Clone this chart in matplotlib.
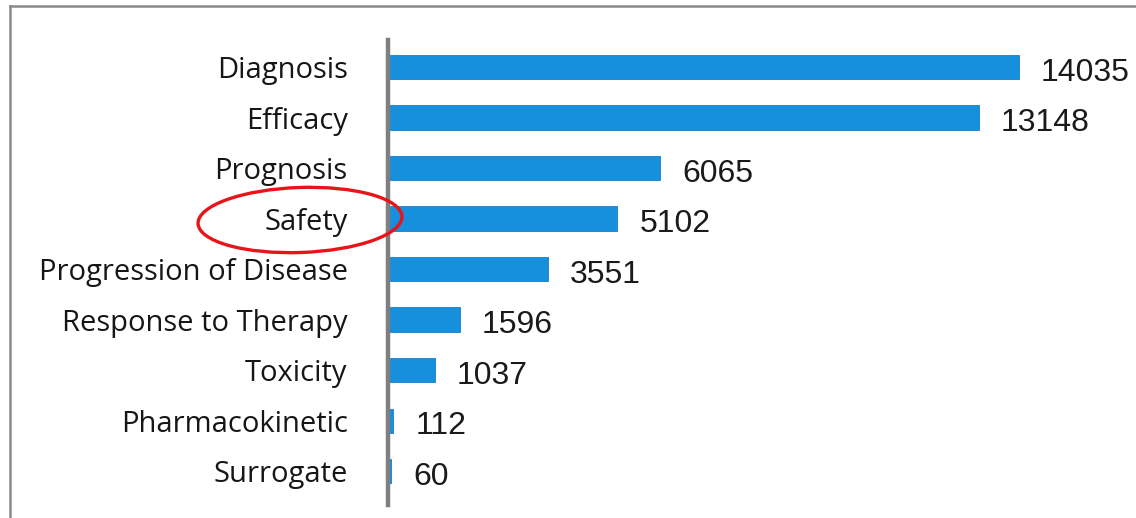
import matplotlib.pyplot as plt
from matplotlib.lines import Line2D
from matplotlib.patches import Ellipse

# endpoint categories and number of studies
categories = ['Diagnosis', 'Efficacy', 'Prognosis', 'Safety',
              'Progression of Disease', 'Response to Therapy',
              'Toxicity', 'Pharmacokinetic', 'Surrogate']
counts = [14035, 13148, 6065, 5102, 3551, 1596, 1037, 112, 60]

W, H = 1136, 518
fig = plt.figure(figsize=(W / 100, H / 100), dpi=100)
fig.patch.set_facecolor('white')

ax = fig.add_axes([388 / W, 13 / H, 1 - 388 / W, (505 - 40) / H])
ypos = list(range(len(categories)))
ax.barh(ypos, counts, height=0.48, color='#1690dd', edgecolor='#1580cc',
        linewidth=0.6, zorder=2)

ax.set_xlim(0, 16650)
ax.set_ylim(8.67, -0.535)
ax.set_xticks([])
ax.set_yticks(ypos)
ax.set_yticklabels(categories, fontfamily='Open Sans', fontsize=21, color='#161616')
ax.tick_params(axis='y', length=0, pad=29)

for s in ['top', 'right', 'bottom']:
    ax.spines[s].set_visible(False)
ax.spines['left'].set_color('#7f7f80')
ax.spines['left'].set_linewidth(3.2)
ax.spines['left'].set_zorder(3)

for y, v in zip(ypos, counts):
    ax.annotate(str(v), xy=(v, y), xytext=(16, -4), textcoords='offset points',
                ha='left', va='center', fontfamily='Liberation Sans',
                fontsize=23, color='#1a1a1a', annotation_clip=False)

# outer frame (top and left edges)
fig.add_artist(Line2D([10 / W, 1], [1 - 6 / H, 1 - 6 / H], transform=fig.transFigure,
                      color='#8a8a8a', linewidth=1.8))
fig.add_artist(Line2D([10 / W, 10 / W], [0, 1 - 6 / H], transform=fig.transFigure,
                      color='#8a8a8a', linewidth=1.8))

# highlight around Safety
fig.add_artist(Ellipse((3.00, (H - 220) / 100), 2.04, 0.65, angle=2,
                       transform=fig.dpi_scale_trans, fill=False,
                       edgecolor='#e8141a', linewidth=2.4))

fig.savefig('out.png', dpi=100)
